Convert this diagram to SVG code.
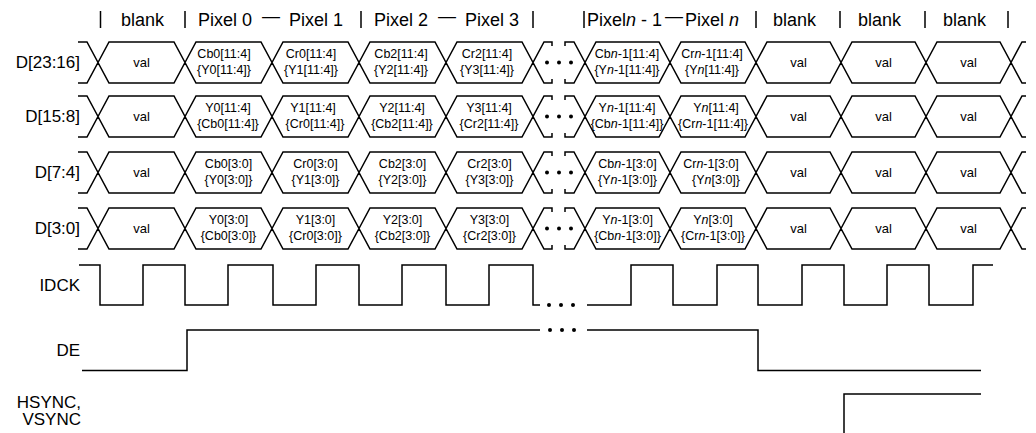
<svg xmlns="http://www.w3.org/2000/svg" xmlns:xlink="http://www.w3.org/1999/xlink" width="1036" height="433" viewBox="0 0 1036 433">
<style>
  text { font-family: "Liberation Sans", Arial, sans-serif; fill: #000; }
  .hdr { font-size: 18px; }
  .lbl { font-size: 17px; text-anchor: end; }
  .in { font-size: 12.5px; text-anchor: middle; }
  .val { font-size: 13px; text-anchor: middle; }
  .w { fill: none; stroke: #000; stroke-width: 1.5; stroke-linejoin: miter; }
  .it { font-style: italic; }
</style>
<defs>
  <path id="busrow" class="w" d="M78,0 L87,0 L98,20.5 L87,41 L78,41
   M98,20.5 L109,0 L174,0 L185,20.5 L174,41 L109,41 Z
   M185,20.5 L196,0 L261,0 L272,20.5 L261,41 L196,41 Z
   M272,20.5 L283,0 L348,0 L359,20.5 L348,41 L283,41 Z
   M359,20.5 L370,0 L435,0 L446,20.5 L435,41 L370,41 Z
   M446,20.5 L457,0 L522,0 L533,20.5 L522,41 L457,41 Z
   M552,4 L552,0 L544,0 L533,20.5 L544,41 L552,41 L552,37
   M565,4 L565,0 L574,0 L585,20.5 L574,41 L565,41 L565,37
   M585,20.5 L596,0 L659,0 L670,20.5 L659,41 L596,41 Z
   M670,20.5 L681,0 L745,0 L756,20.5 L745,41 L681,41 Z
   M756,20.5 L767,0 L830,0 L841,20.5 L830,41 L767,41 Z
   M841,20.5 L852,0 L915,0 L926,20.5 L915,41 L852,41 Z
   M926,20.5 L937,0 L1000,0 L1011,20.5 L1000,41 L937,41 Z
   M1026,0 L1022,0 L1011,20.5 L1022,41 L1026,41"/>
  <g id="dots3">
    <circle cx="547" cy="0" r="2"/>
    <circle cx="559" cy="0" r="2"/>
    <circle cx="571" cy="0" r="2"/>
  </g>
</defs>

<g id="header">
  <g class="w">
    <line x1="100.5" y1="11" x2="100.5" y2="28"/>
    <line x1="185" y1="11" x2="185" y2="28"/>
    <line x1="361" y1="11" x2="361" y2="28"/>
    <line x1="533" y1="11" x2="533" y2="28"/>
    <line x1="584" y1="11" x2="584" y2="28"/>
    <line x1="756" y1="11" x2="756" y2="28"/>
    <line x1="840" y1="11" x2="840" y2="28"/>
    <line x1="925" y1="11" x2="925" y2="28"/>
    <line x1="1008" y1="11" x2="1008" y2="28"/>
  </g>
  <text class="hdr" x="121" y="26">blank</text>
  <text class="hdr" x="198" y="26">Pixel 0</text>
  <text class="hdr" x="262" y="22">—</text>
  <text class="hdr" x="289" y="26">Pixel 1</text>
  <text class="hdr" x="374" y="26">Pixel 2</text>
  <text class="hdr" x="438" y="22">—</text>
  <text class="hdr" x="465" y="26">Pixel 3</text>
  <text class="hdr" x="587" y="26">Pixel<tspan class="it">n</tspan> - 1</text>
  <text class="hdr" x="665" y="22">—</text>
  <text class="hdr" x="685" y="26">Pixel <tspan class="it">n</tspan></text>
  <text class="hdr" x="773" y="26">blank</text>
  <text class="hdr" x="858" y="26">blank</text>
  <text class="hdr" x="943" y="26">blank</text>
</g>

<g id="d23_16" transform="translate(0,42)">
  <use xlink:href="#busrow" href="#busrow"/>
  <use xlink:href="#dots3" href="#dots3" y="20.5"/>
  <text class="lbl" x="80" y="26">D[23:16]</text>
  <text class="val" x="141.5" y="25">val</text>
  <text class="in" x="224" y="16">Cb0[11:4]</text><text class="in" x="224" y="32">{Y0[11:4]}</text>
  <text class="in" x="311" y="16">Cr0[11:4]</text><text class="in" x="311" y="32">{Y1[11:4]}</text>
  <text class="in" x="401" y="16">Cb2[11:4]</text><text class="in" x="401" y="32">{Y2[11:4]}</text>
  <text class="in" x="487" y="16">Cr2[11:4]</text><text class="in" x="487" y="32">{Y3[11:4]}</text>
  <text class="in" x="627" y="16">Cb<tspan class="it">n</tspan>-1[11:4]</text><text class="in" x="627" y="32">{Y<tspan class="it">n</tspan>-1[11:4]}</text>
  <text class="in" x="712" y="16">Cr<tspan class="it">n</tspan>-1[11:4]</text><text class="in" x="712" y="32">{Y<tspan class="it">n</tspan>[11:4]}</text>
  <text class="val" x="798.5" y="25">val</text>
  <text class="val" x="883.5" y="25">val</text>
  <text class="val" x="968.5" y="25">val</text>
</g>

<g id="d15_8" transform="translate(0,96)">
  <use xlink:href="#busrow" href="#busrow"/>
  <use xlink:href="#dots3" href="#dots3" y="20.5"/>
  <text class="lbl" x="80" y="26">D[15:8]</text>
  <text class="val" x="141.5" y="25">val</text>
  <text class="in" x="228" y="16">Y0[11:4]</text><text class="in" x="228" y="32">{Cb0[11:4]}</text>
  <text class="in" x="313" y="16">Y1[11:4]</text><text class="in" x="315" y="32">{Cr0[11:4]}</text>
  <text class="in" x="402" y="16">Y2[11:4]</text><text class="in" x="402" y="32">{Cb2[11:4]}</text>
  <text class="in" x="489" y="16">Y3[11:4]</text><text class="in" x="489" y="32">{Cr2[11:4]}</text>
  <text class="in" x="627" y="16">Y<tspan class="it">n</tspan>-1[11:4]</text><text class="in" x="627" y="32">{Cb<tspan class="it">n</tspan>-1[11:4]}</text>
  <text class="in" x="716" y="16">Y<tspan class="it">n</tspan>[11:4]</text><text class="in" x="713" y="32">{Cr<tspan class="it">n</tspan>-1[11:4]}</text>
  <text class="val" x="798.5" y="25">val</text>
  <text class="val" x="883.5" y="25">val</text>
  <text class="val" x="968.5" y="25">val</text>
</g>

<g id="d7_4" transform="translate(0,152)">
  <use xlink:href="#busrow" href="#busrow"/>
  <use xlink:href="#dots3" href="#dots3" y="20.5"/>
  <text class="lbl" x="80" y="26">D[7:4]</text>
  <text class="val" x="141.5" y="25">val</text>
  <text class="in" x="228.5" y="16">Cb0[3:0]</text><text class="in" x="228.5" y="32">{Y0[3:0]}</text>
  <text class="in" x="315.5" y="16">Cr0[3:0]</text><text class="in" x="315.5" y="32">{Y1[3:0]}</text>
  <text class="in" x="402.5" y="16">Cb2[3:0]</text><text class="in" x="402.5" y="32">{Y2[3:0]}</text>
  <text class="in" x="489.5" y="16">Cr2[3:0]</text><text class="in" x="489.5" y="32">{Y3[3:0]}</text>
  <text class="in" x="627.5" y="16">Cb<tspan class="it">n</tspan>-1[3:0]</text><text class="in" x="627.5" y="32">{Y<tspan class="it">n</tspan>-1[3:0]}</text>
  <text class="in" x="711" y="16">Cr<tspan class="it">n</tspan>-1[3:0]</text><text class="in" x="716" y="32">{Y<tspan class="it">n</tspan>[3:0]}</text>
  <text class="val" x="798.5" y="25">val</text>
  <text class="val" x="883.5" y="25">val</text>
  <text class="val" x="968.5" y="25">val</text>
</g>

<g id="d3_0" transform="translate(0,208)">
  <use xlink:href="#busrow" href="#busrow"/>
  <use xlink:href="#dots3" href="#dots3" y="20.5"/>
  <text class="lbl" x="80" y="26">D[3:0]</text>
  <text class="val" x="141.5" y="25">val</text>
  <text class="in" x="228.5" y="16">Y0[3:0]</text><text class="in" x="228.5" y="32">{Cb0[3:0]}</text>
  <text class="in" x="315.5" y="16">Y1[3:0]</text><text class="in" x="315.5" y="32">{Cr0[3:0]}</text>
  <text class="in" x="402.5" y="16">Y2[3:0]</text><text class="in" x="402.5" y="32">{Cb2[3:0]}</text>
  <text class="in" x="489.5" y="16">Y3[3:0]</text><text class="in" x="489.5" y="32">{Cr2[3:0]}</text>
  <text class="in" x="627.5" y="16">Y<tspan class="it">n</tspan>-1[3:0]</text><text class="in" x="627.5" y="32">{Cb<tspan class="it">n</tspan>-1[3:0]}</text>
  <text class="in" x="713" y="16">Y<tspan class="it">n</tspan>[3:0]</text><text class="in" x="713" y="32">{Cr<tspan class="it">n</tspan>-1[3:0]}</text>
  <text class="val" x="798.5" y="25">val</text>
  <text class="val" x="883.5" y="25">val</text>
  <text class="val" x="968.5" y="25">val</text>
</g>

<g id="idck">
  <text class="lbl" x="80" y="291">IDCK</text>
  <path class="w" d="M79,265 L100,265 L100,305 L143,305 L143,265 L185,265 L185,305 L228,305 L228,265 L273,265 L273,305 L316,305 L316,265 L359,265 L359,305 L402,305 L402,265 L446,265 L446,305 L489,305 L489,265 L533,265 L533,305 L540,305
   M587,305 L631,305 L631,265 L673,265 L673,305 L717,305 L717,265 L758,265 L758,305 L802,305 L802,265 L844,265 L844,305 L887,305 L887,265 L929,265 L929,305 L973,305 L973,265 L993,265"/>
  <use xlink:href="#dots3" href="#dots3" y="305" transform="translate(2,0)"/>
</g>

<g id="de">
  <text class="lbl" x="80" y="356">DE</text>
  <path class="w" d="M82,370.5 L187,370.5 L187,330 L540,330 M587,330 L758,330 L758,370.5 L981,370.5"/>
  <use xlink:href="#dots3" href="#dots3" y="330" transform="translate(3,0)"/>
</g>

<g id="hsync">
  <text class="lbl" x="81" y="408">HSYNC,</text>
  <text class="lbl" x="81" y="425">VSYNC</text>
  <path class="w" d="M844,434 L844,394 L981,394"/>
</g>
</svg>
